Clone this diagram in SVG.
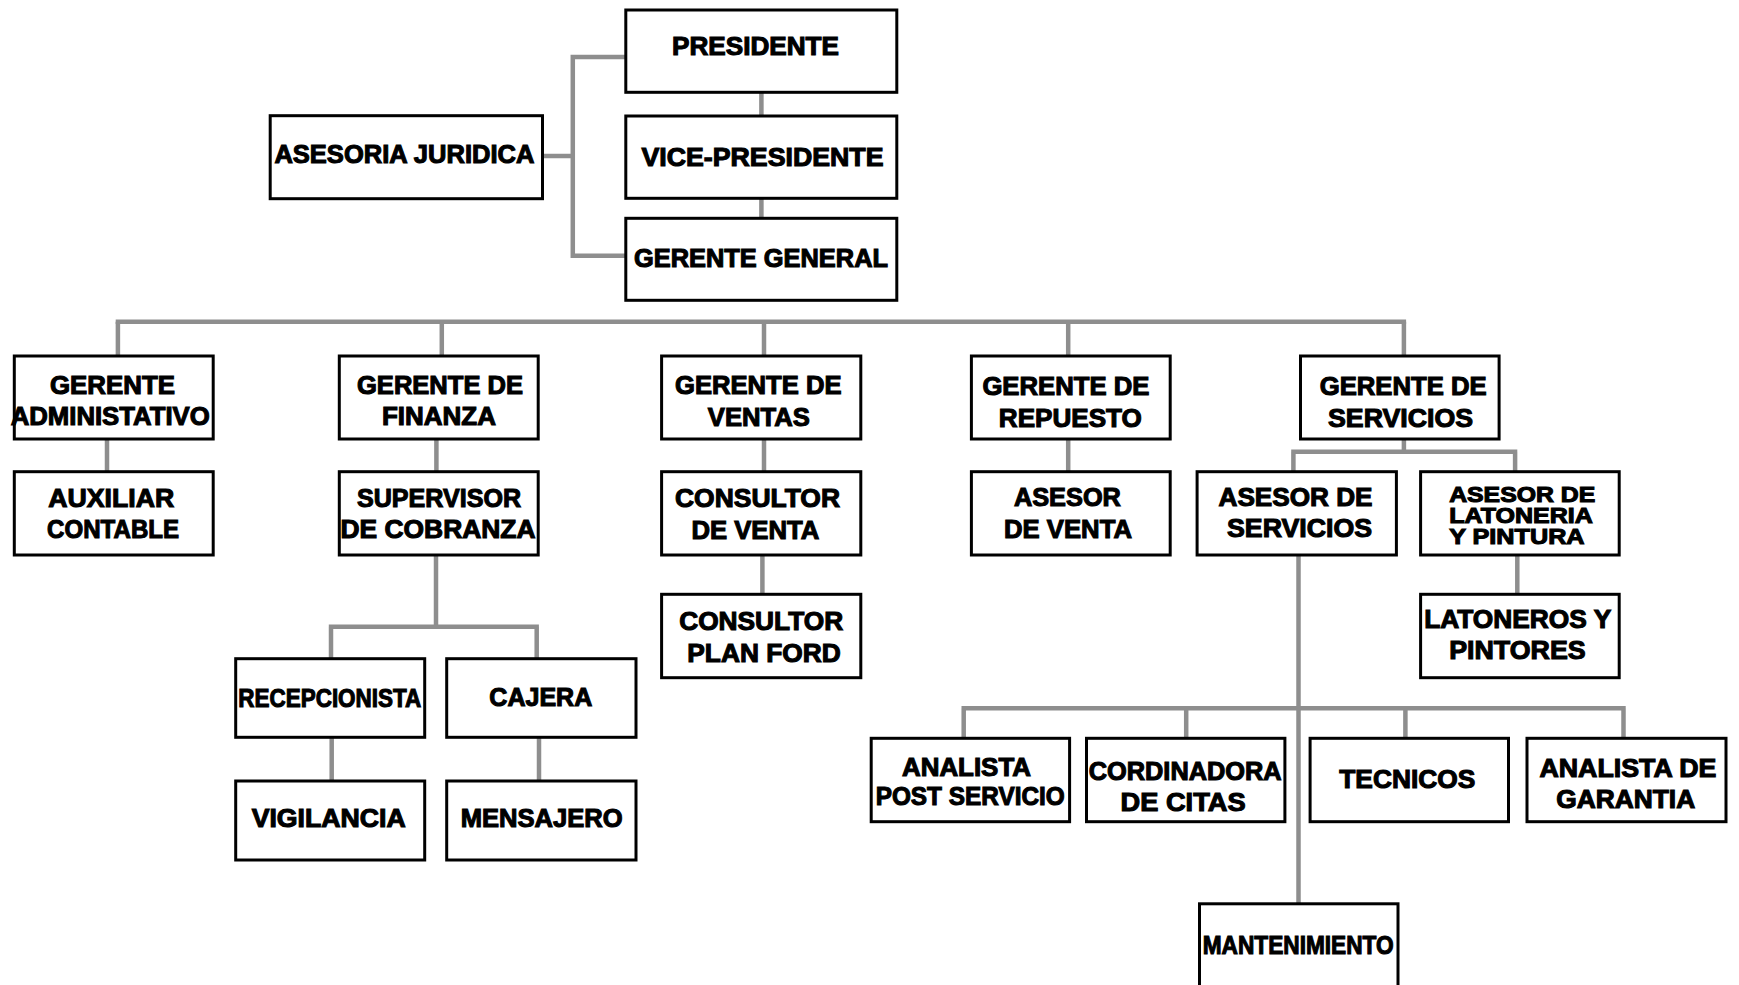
<svg xmlns="http://www.w3.org/2000/svg" width="1739" height="985" viewBox="0 0 1739 985">
<style>
  .bg{fill:#fff}
  .box{fill:#fff;stroke:#000;stroke-width:3}
  .t{font-family:"Liberation Sans",Arial,sans-serif;font-weight:bold;font-size:26px;fill:#000;stroke:#000;stroke-width:1.1}
  .s{font-size:22px}
  .c{fill:none;stroke:#8e8e8e;stroke-width:4.5;stroke-linecap:butt}
</style>
<rect class="bg" x="0" y="0" width="1739" height="985"/>
<g id="connectors">
  <path class="c" d="M625.8 57 H572.8 V255.7 H625.8 M542.5 156 H572.8"/>
  <path class="c" d="M761.4 92.3 V116 M761.4 198.3 V218.3"/>
  <path class="c" d="M115.7 321.7 H1406.1"/>
  <path class="c" d="M117.9 321.7 V356 M441.8 321.7 V356 M764 321.7 V356 M1068.2 321.7 V356 M1403.9 321.7 V356"/>
  <path class="c" d="M107 439 V471.7 M436.4 439 V471.7 M764 439 V471.7 M1068.2 439 V471.7"/>
  <path class="c" d="M762.4 555 V594.3"/>
  <path class="c" d="M1403.9 439 V451.7 M1291.2 451.7 H1517.3 M1293.4 451.7 V471.7 M1515.1 451.7 V471.7"/>
  <path class="c" d="M1517.3 555 V594.3"/>
  <path class="c" d="M436 555 V626.7 M328.8 626.7 H538.9 M331 626.7 V658.7 M536.7 626.7 V658.7"/>
  <path class="c" d="M331.7 737.3 V781 M539 737.3 V781"/>
  <path class="c" d="M1298.5 555 V903.3 M961.5 708.3 H1625.7 M963.7 708.3 V738.3 M1186.2 708.3 V738.3 M1405.4 708.3 V738.3 M1623.5 708.3 V738.3"/>
</g>
<g id="presidente"><rect class="box" x="625.8" y="10" width="271" height="82.3"/><text class="t" x="672" y="55" textLength="167" lengthAdjust="spacingAndGlyphs">PRESIDENTE</text></g>
<g id="vice-presidente"><rect class="box" x="625.8" y="116" width="271" height="82.3"/><text class="t" x="641.5" y="165.7" textLength="242" lengthAdjust="spacingAndGlyphs">VICE-PRESIDENTE</text></g>
<g id="gerente-general"><rect class="box" x="625.8" y="218.3" width="271" height="82"/><text class="t" x="634" y="266.7" textLength="254" lengthAdjust="spacingAndGlyphs">GERENTE GENERAL</text></g>
<g id="asesoria-juridica"><rect class="box" x="270.2" y="115.7" width="272.3" height="83"/><text class="t" x="274.4" y="163.3" textLength="260" lengthAdjust="spacingAndGlyphs">ASESORIA JURIDICA</text></g>
<g id="gerente-administativo"><rect class="box" x="14.3" y="356" width="198.9" height="83"/><text class="t" x="50" y="394.3" textLength="125" lengthAdjust="spacingAndGlyphs">GERENTE</text><text class="t" x="10.7" y="425" textLength="199" lengthAdjust="spacingAndGlyphs">ADMINISTATIVO</text></g>
<g id="gerente-finanza"><rect class="box" x="339.3" y="356" width="198.9" height="83"/><text class="t" x="357" y="394.3" textLength="166" lengthAdjust="spacingAndGlyphs">GERENTE DE</text><text class="t" x="382" y="425" textLength="114" lengthAdjust="spacingAndGlyphs">FINANZA</text></g>
<g id="gerente-ventas"><rect class="box" x="661.6" y="356" width="199.2" height="83"/><text class="t" x="675" y="394.3" textLength="166.5" lengthAdjust="spacingAndGlyphs">GERENTE DE</text><text class="t" x="707.8" y="426" textLength="102" lengthAdjust="spacingAndGlyphs">VENTAS</text></g>
<g id="gerente-repuesto"><rect class="box" x="971.4" y="356" width="198.8" height="83"/><text class="t" x="982.4" y="395" textLength="167" lengthAdjust="spacingAndGlyphs">GERENTE DE</text><text class="t" x="998.8" y="427.3" textLength="143" lengthAdjust="spacingAndGlyphs">REPUESTO</text></g>
<g id="gerente-servicios"><rect class="box" x="1300.5" y="356" width="198.6" height="83"/><text class="t" x="1319.7" y="395" textLength="167" lengthAdjust="spacingAndGlyphs">GERENTE DE</text><text class="t" x="1328" y="427.3" textLength="145" lengthAdjust="spacingAndGlyphs">SERVICIOS</text></g>
<g id="auxiliar-contable"><rect class="box" x="14.3" y="471.7" width="198.9" height="83.3"/><text class="t" x="48.2" y="507.3" textLength="126" lengthAdjust="spacingAndGlyphs">AUXILIAR</text><text class="t" x="47.1" y="537.7" textLength="132" lengthAdjust="spacingAndGlyphs">CONTABLE</text></g>
<g id="supervisor-cobranza"><rect class="box" x="339.3" y="471.7" width="198.9" height="83.3"/><text class="t" x="357" y="507.3" textLength="164" lengthAdjust="spacingAndGlyphs">SUPERVISOR</text><text class="t" x="340.5" y="537.7" textLength="195" lengthAdjust="spacingAndGlyphs">DE COBRANZA</text></g>
<g id="consultor-venta"><rect class="box" x="661.6" y="471.7" width="199.2" height="83.3"/><text class="t" x="675" y="507.3" textLength="165" lengthAdjust="spacingAndGlyphs">CONSULTOR</text><text class="t" x="691.4" y="538.7" textLength="128" lengthAdjust="spacingAndGlyphs">DE VENTA</text></g>
<g id="consultor-plan-ford"><rect class="box" x="661.6" y="594.3" width="199.2" height="83.4"/><text class="t" x="679.2" y="630" textLength="164" lengthAdjust="spacingAndGlyphs">CONSULTOR</text><text class="t" x="687.3" y="661.7" textLength="153.5" lengthAdjust="spacingAndGlyphs">PLAN FORD</text></g>
<g id="asesor-venta"><rect class="box" x="971.4" y="471.7" width="198.8" height="83.3"/><text class="t" x="1013.9" y="506" textLength="107" lengthAdjust="spacingAndGlyphs">ASESOR</text><text class="t" x="1004" y="537.7" textLength="128" lengthAdjust="spacingAndGlyphs">DE VENTA</text></g>
<g id="asesor-servicios"><rect class="box" x="1197.1" y="471.7" width="199.3" height="83.3"/><text class="t" x="1218.5" y="506" textLength="154" lengthAdjust="spacingAndGlyphs">ASESOR DE</text><text class="t" x="1227" y="537.3" textLength="145" lengthAdjust="spacingAndGlyphs">SERVICIOS</text></g>
<g id="asesor-latoneria"><rect class="box" x="1420.6" y="471.7" width="198.6" height="83.3"/><text class="t s" x="1449.2" y="501.7" textLength="146" lengthAdjust="spacingAndGlyphs">ASESOR DE</text><text class="t s" x="1449.2" y="523.3" textLength="143.6" lengthAdjust="spacingAndGlyphs">LATONERIA</text><text class="t s" x="1449.2" y="544" textLength="135.4" lengthAdjust="spacingAndGlyphs">Y PINTURA</text></g>
<g id="latoneros-pintores"><rect class="box" x="1420.6" y="594.3" width="198.6" height="83.4"/><text class="t" x="1424.2" y="628.3" textLength="187" lengthAdjust="spacingAndGlyphs">LATONEROS Y</text><text class="t" x="1449.2" y="659.3" textLength="136.5" lengthAdjust="spacingAndGlyphs">PINTORES</text></g>
<g id="recepcionista"><rect class="box" x="235.7" y="658.7" width="189" height="78.6"/><text class="t" x="238.3" y="707.3" textLength="183" lengthAdjust="spacingAndGlyphs">RECEPCIONISTA</text></g>
<g id="cajera"><rect class="box" x="446.7" y="658.7" width="189.3" height="78.6"/><text class="t" x="489.3" y="705.7" textLength="103" lengthAdjust="spacingAndGlyphs">CAJERA</text></g>
<g id="vigilancia"><rect class="box" x="235.7" y="781" width="189" height="79"/><text class="t" x="251.7" y="826.7" textLength="154" lengthAdjust="spacingAndGlyphs">VIGILANCIA</text></g>
<g id="mensajero"><rect class="box" x="446.7" y="781" width="189.3" height="79"/><text class="t" x="460.7" y="826.7" textLength="162" lengthAdjust="spacingAndGlyphs">MENSAJERO</text></g>
<g id="analista-post-servicio"><rect class="box" x="871.2" y="738.3" width="198.4" height="83.4"/><text class="t" x="902" y="775.7" textLength="129" lengthAdjust="spacingAndGlyphs">ANALISTA</text><text class="t" x="875.7" y="805" textLength="189" lengthAdjust="spacingAndGlyphs">POST SERVICIO</text></g>
<g id="cordinadora-citas"><rect class="box" x="1086.5" y="738.3" width="198.4" height="83.4"/><text class="t" x="1088.7" y="780" textLength="193" lengthAdjust="spacingAndGlyphs">CORDINADORA</text><text class="t" x="1120.6" y="811" textLength="125" lengthAdjust="spacingAndGlyphs">DE CITAS</text></g>
<g id="tecnicos"><rect class="box" x="1310.1" y="738.3" width="198.4" height="83.4"/><text class="t" x="1339.3" y="788.3" textLength="136" lengthAdjust="spacingAndGlyphs">TECNICOS</text></g>
<g id="analista-garantia"><rect class="box" x="1527" y="738.3" width="199" height="83.4"/><text class="t" x="1539.4" y="777.3" textLength="177" lengthAdjust="spacingAndGlyphs">ANALISTA DE</text><text class="t" x="1556.2" y="808.3" textLength="139" lengthAdjust="spacingAndGlyphs">GARANTIA</text></g>
<g id="mantenimiento"><rect class="box" x="1199.5" y="903.8" width="198.5" height="84"/><text class="t" x="1202.7" y="953.5" textLength="191" lengthAdjust="spacingAndGlyphs">MANTENIMIENTO</text></g>
</svg>
